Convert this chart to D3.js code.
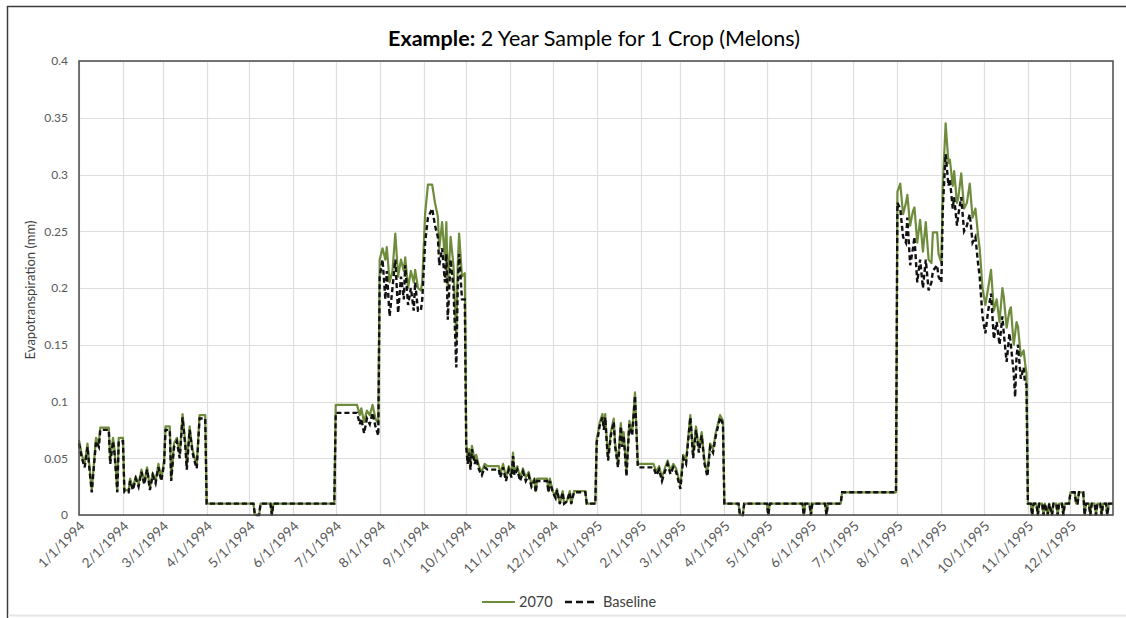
<!DOCTYPE html>
<html>
<head>
<meta charset="utf-8">
<script src="https://cdn.jsdelivr.net/npm/d3@7/dist/d3.min.js"></script>
<style>
  html, body { margin: 0; padding: 0; background: #fff; }
  svg { display: block; font-family: Lato, "Open Sans", sans-serif; }
</style>
</head>
<body>
<svg id="chart" width="1126" height="618"></svg>
<script>
// Daily evapotranspiration (mm) for melons, 1994-1995.
// Each entry is [days since 1 Jan 1994, value].
const et2070 = [
  // Jan - Mar 1994
  [0,.066],[2,.053],[4,.045],[6,.063],[7,.048],[9,.022],[11,.053],[12,.068],[14,.063],[15,.077],
  [21,.077],[22,.048],[24,.068],[25,.058],[27,.022],[28,.068],[31,.068],[32,.022],[35,.022],[36,.032],
  [38,.024],[40,.034],[42,.027],[44,.04],[46,.029],[48,.042],[50,.024],[52,.037],[54,.03],[56,.045],
  [58,.032],[60,.048],[61,.078],[64,.078],[65,.032],[67,.063],[69,.068],[71,.053],[73,.089],[75,.063],
  [76,.043],[78,.078],[80,.058],[82,.048],[83,.044],[85,.088],[89,.088],
  // Apr - Jun 1994
  [90,.01],[123,.01],[124,0],[127,0],[128,.01],[135,.01],[136,0],[137,.01],[180,.01],
  // Jul 1994
  [181,.097],[196,.097],[198,.088],[199,.094],[201,.082],[203,.092],[205,.088],[207,.097],[209,.085],[211,.08],
  // Aug - Sep 1994
  [212,.225],[214,.235],[216,.225],[217,.236],[219,.205],[221,.215],[223,.248],[225,.21],[227,.225],[229,.215],
  [230,.227],[232,.2],[234,.215],[236,.205],[237,.216],[239,.2],[241,.198],[242,.205],[244,.265],[246,.291],
  [249,.291],[251,.275],[253,.263],[254,.235],[256,.258],[258,.225],[259,.258],[260,.2],[262,.245],[264,.22],
  [266,.155],[267,.22],[268,.248],[270,.21],[272,.213],
  // Oct - Dec 1994
  [273,.064],[274,.048],[275,.058],[276,.043],[277,.061],[279,.048],[280,.053],[282,.043],[284,.038],[286,.045],
  [288,.043],[296,.043],[297,.036],[299,.045],[301,.033],[303,.043],[305,.036],[306,.055],[307,.038],[309,.043],
  [311,.033],[313,.041],[315,.033],[317,.038],[319,.027],[321,.032],[322,.021],[323,.032],[330,.032],[331,.021],
  [332,.032],[334,.021],[336,.016],[337,.023],[339,.01],[341,.021],[342,.01],[344,.012],[346,.021],[347,.01],
  [349,.021],[357,.021],[358,.01],[364,.01],
  // Jan - Mar 1995
  [365,.067],[366,.073],[367,.081],[369,.089],[370,.078],[371,.089],[372,.068],[373,.051],[375,.073],[377,.085],
  [378,.063],[380,.045],[382,.081],[383,.063],[384,.073],[386,.037],[388,.083],[390,.073],[392,.108],[394,.045],
  [405,.045],[407,.038],[409,.043],[411,.033],[413,.041],[415,.048],[417,.039],[419,.045],[421,.041],[424,.026],
  [426,.053],[428,.048],[431,.088],[433,.053],[435,.078],[437,.058],[439,.073],[441,.048],[443,.037],[445,.063],
  [447,.058],[449,.073],[452,.088],[454,.083],
  // Apr - Jul 1995
  [455,.01],[465,.01],[466,0],[468,0],[469,.01],[485,.01],[486,0],[487,.01],[510,.01],[511,0],
  [512,.01],[515,.01],[516,0],[517,.01],[526,.01],[527,0],[528,.01],[537,.01],[538,.02],[576,.02],
  // Aug - Oct 1995
  [577,.285],[579,.292],[581,.265],[583,.275],[584,.282],[586,.255],[588,.268],[589,.271],[591,.24],[593,.26],
  [595,.232],[597,.258],[599,.225],[601,.222],[602,.249],[605,.249],[606,.23],[608,.222],[609,.29],[611,.345],
  [613,.31],[614,.313],[616,.29],[617,.303],[619,.275],[620,.28],[622,.301],[624,.27],[626,.275],[628,.292],
  [630,.262],[632,.27],[634,.245],[635,.235],[637,.2],[639,.185],[641,.2],[643,.216],[645,.18],[647,.19],
  [649,.17],[651,.2],[652,.192],[654,.165],[656,.18],[657,.183],[659,.15],[661,.17],[662,.166],[664,.14],
  [666,.145],[667,.134],[668,.125],
  // Nov - Dec 1995
  [669,.01],[671,.01],[672,0],[673,.01],[675,.01],[676,0],[677,.01],[679,.01],[680,0],[681,.01],
  [683,0],[684,.01],[686,0],[687,.01],[689,.01],[690,0],[691,.01],[693,.01],[694,0],[695,.01],
  [698,.01],[699,.02],[702,.02],[703,.01],[704,.01],[705,.02],[708,.02],[709,0],[710,.01],[712,.01],
  [713,0],[714,.01],[716,.01],[717,0],[718,.01],[720,.01],[721,0],[722,.01],[724,.01],[725,0],
  [726,.01],[729,.01]
];

const etBaseline = [
  // Jan - Mar 1994
  [0,.063],[2,.05],[4,.042],[6,.06],[7,.045],[9,.02],[11,.05],[12,.065],[14,.06],[15,.075],
  [21,.075],[22,.045],[24,.065],[25,.055],[27,.02],[28,.065],[31,.065],[32,.02],[35,.02],[36,.03],
  [38,.022],[40,.032],[42,.025],[44,.038],[46,.027],[48,.04],[50,.022],[52,.035],[54,.028],[56,.042],
  [58,.03],[60,.045],[61,.075],[64,.075],[65,.03],[67,.06],[69,.065],[71,.05],[73,.086],[75,.06],
  [76,.04],[78,.075],[80,.055],[82,.045],[83,.041],[85,.085],[89,.085],
  // Apr - Jun 1994
  [90,.01],[123,.01],[124,0],[127,0],[128,.01],[135,.01],[136,0],[137,.01],[180,.01],
  // Jul 1994
  [181,.09],[196,.09],[198,.08],[199,.085],[201,.072],[203,.085],[205,.08],[207,.09],[209,.078],[211,.07],
  // Aug - Sep 1994
  [212,.21],[214,.225],[216,.19],[217,.215],[219,.175],[221,.2],[223,.225],[225,.178],[227,.21],[229,.19],
  [230,.22],[232,.185],[234,.2],[236,.18],[237,.205],[239,.18],[241,.18],[242,.19],[244,.24],[246,.262],
  [249,.27],[251,.255],[253,.245],[254,.22],[256,.235],[258,.205],[259,.23],[260,.172],[262,.225],[264,.2],
  [266,.13],[267,.2],[268,.23],[270,.19],[272,.19],
  // Oct - Dec 1994
  [273,.06],[274,.045],[275,.055],[276,.04],[277,.058],[279,.045],[280,.05],[282,.04],[284,.035],[286,.042],
  [288,.04],[296,.04],[297,.033],[299,.042],[301,.03],[303,.04],[305,.033],[306,.052],[307,.035],[309,.04],
  [311,.03],[313,.038],[315,.03],[317,.035],[319,.025],[321,.03],[322,.02],[323,.03],[330,.03],[331,.02],
  [332,.03],[334,.02],[336,.015],[337,.022],[339,.01],[341,.02],[342,.01],[344,.012],[346,.02],[347,.01],
  [349,.02],[357,.02],[358,.01],[364,.01],
  // Jan - Mar 1995
  [365,.064],[366,.07],[367,.078],[369,.086],[370,.075],[371,.086],[372,.065],[373,.048],[375,.07],[377,.082],
  [378,.06],[380,.042],[382,.078],[383,.06],[384,.07],[386,.034],[388,.08],[390,.07],[392,.105],[394,.042],
  [405,.042],[407,.035],[409,.04],[411,.03],[413,.038],[415,.045],[417,.036],[419,.042],[421,.038],[424,.023],
  [426,.05],[428,.045],[431,.086],[433,.05],[435,.075],[437,.055],[439,.07],[441,.045],[443,.034],[445,.06],
  [447,.055],[449,.07],[452,.086],[454,.08],
  // Apr - Jul 1995
  [455,.01],[465,.01],[466,0],[468,0],[469,.01],[485,.01],[486,0],[487,.01],[510,.01],[511,0],
  [512,.01],[515,.01],[516,0],[517,.01],[526,.01],[527,0],[528,.01],[537,.01],[538,.02],[576,.02],
  // Aug - Oct 1995
  [577,.275],[579,.27],[581,.245],[583,.24],[584,.262],[586,.22],[588,.235],[589,.245],[591,.205],[593,.225],
  [595,.2],[597,.225],[599,.198],[601,.205],[602,.215],[605,.22],[606,.21],[608,.205],[609,.27],[611,.318],
  [613,.29],[614,.296],[616,.27],[617,.28],[619,.255],[620,.265],[622,.28],[624,.25],[626,.255],[628,.265],
  [630,.24],[632,.245],[634,.22],[635,.21],[637,.175],[639,.16],[641,.18],[643,.195],[645,.155],[647,.17],
  [649,.15],[651,.175],[652,.16],[654,.135],[656,.16],[657,.15],[659,.125],[660,.104],[661,.14],[662,.15],
  [664,.12],[666,.13],[667,.116],[668,.115],
  // Nov - Dec 1995
  [669,.01],[671,.01],[672,0],[673,.01],[675,.01],[676,0],[677,.01],[679,.01],[680,0],[681,.01],
  [683,0],[684,.01],[686,0],[687,.01],[689,.01],[690,0],[691,.01],[693,.01],[694,0],[695,.01],
  [698,.01],[699,.02],[702,.02],[703,.01],[704,.01],[705,.02],[708,.02],[709,0],[710,.01],[712,.01],
  [713,0],[714,.01],[716,.01],[717,0],[718,.01],[720,.01],[721,0],[722,.01],[724,.01],[725,0],
  [726,.01],[729,.01]
];

const yTicks = [0, 0.05, 0.1, 0.15, 0.2, 0.25, 0.3, 0.35, 0.4];
const seriesNames = ["2070", "Baseline"];

const startDate = new Date(1994, 0, 1);
const endDate = new Date(1995, 11, 31);
const monthTicks = d3.timeMonth.range(startDate, new Date(1996, 0, 1));
const toDate = d => d3.timeDay.offset(startDate, d);

const svg = d3.select("#chart");
const plot = { left: 79, right: 1113, top: 61, bottom: 515 };

const x = d3.scaleTime().domain([startDate, endDate]).range([plot.left, plot.right]);
const y = d3.scaleLinear().domain([0, 0.4]).range([plot.bottom, plot.top]);

// outer frame
svg.append("line").attr("x1", 7.5).attr("x2", 7.5).attr("y1", 6).attr("y2", 618)
  .attr("stroke", "#3c3c3c").attr("stroke-width", 1.5);
svg.append("line").attr("x1", 7).attr("x2", 1126).attr("y1", 6.5).attr("y2", 6.5)
  .attr("stroke", "#3c3c3c").attr("stroke-width", 1.5);
svg.append("line").attr("x1", 8).attr("x2", 1126).attr("y1", 615.5).attr("y2", 615.5)
  .attr("stroke", "#e6e6e6").attr("stroke-width", 2);

// title
svg.append("text")
  .attr("x", 594).attr("y", 46)
  .attr("text-anchor", "middle")
  .attr("font-size", 21.5).attr("fill", "#000")
  .call(t => {
    t.append("tspan").attr("font-weight", "bold").text("Example:");
    t.append("tspan").text(" 2 Year Sample for 1 Crop (Melons)");
  });

// gridlines
svg.append("g").selectAll("line").data(yTicks).join("line")
  .attr("x1", plot.left).attr("x2", plot.right)
  .attr("y1", d => Math.round(y(d)) + 0.5).attr("y2", d => Math.round(y(d)) + 0.5)
  .attr("stroke", "#dedede").attr("stroke-width", 1.2);
svg.append("g").selectAll("line").data(monthTicks).join("line")
  .attr("x1", d => Math.round(x(d)) + 0.5).attr("x2", d => Math.round(x(d)) + 0.5)
  .attr("y1", plot.top).attr("y2", plot.bottom)
  .attr("stroke", "#dedede").attr("stroke-width", 1.2);

// y axis labels
const yAxis = svg.append("g")
  .attr("transform", `translate(${plot.left},0)`)
  .call(d3.axisLeft(y).tickValues(yTicks).tickSize(0).tickPadding(11)
    .tickFormat(d => String(+d.toFixed(2))));
yAxis.select(".domain").remove();
yAxis.selectAll("text").attr("font-size", 12).attr("fill", "#595959")
  .attr("font-family", "Lato, sans-serif");

// x axis labels (rotated)
const xAxis = svg.append("g")
  .attr("transform", `translate(0,${plot.bottom})`)
  .call(d3.axisBottom(x).tickValues(monthTicks).tickSize(0).tickFormat(d3.timeFormat("%-m/%-d/%Y")));
xAxis.select(".domain").remove();
xAxis.selectAll("text")
  .attr("font-size", 13.5).attr("fill", "#595959").attr("font-family", "Lato, sans-serif")
  .attr("text-anchor", "end")
  .attr("dy", null).attr("y", 0)
  .attr("transform", "translate(6,12) rotate(-45)");

// axis title
svg.append("text")
  .attr("transform", "translate(35,290) rotate(-90)")
  .attr("text-anchor", "middle")
  .attr("font-size", 13).attr("fill", "#404040")
  .text("Evapotranspiration (mm)");

// series
const line = d3.line()
  .x(d => x(toDate(d[0])))
  .y(d => y(d[1]));

svg.append("path").datum(et2070)
  .attr("d", line).attr("fill", "none")
  .attr("stroke", "#6f8c3c").attr("stroke-width", 2.2).attr("stroke-linejoin", "round");
svg.append("path").datum(etBaseline)
  .attr("d", line).attr("fill", "none")
  .attr("stroke", "#111").attr("stroke-width", 2.4).attr("stroke-dasharray", "5,3");

// plot frame
svg.append("rect")
  .attr("x", plot.left).attr("y", plot.top)
  .attr("width", plot.right - plot.left).attr("height", plot.bottom - plot.top)
  .attr("fill", "none").attr("stroke", "#4a4a4a").attr("stroke-width", 1.5);

// legend
const legend = svg.append("g").attr("transform", "translate(0,602)");
legend.append("line").attr("x1", 482).attr("x2", 515).attr("y1", 0).attr("y2", 0)
  .attr("stroke", "#6f8c3c").attr("stroke-width", 2.2);
legend.append("text").attr("x", 519).attr("y", 5).attr("font-size", 14.5).attr("fill", "#404040")
  .text(seriesNames[0]);
legend.append("line").attr("x1", 565).attr("x2", 598).attr("y1", 0).attr("y2", 0)
  .attr("stroke", "#111").attr("stroke-width", 2.4).attr("stroke-dasharray", "7,4");
legend.append("text").attr("x", 603).attr("y", 5).attr("font-size", 14.5).attr("fill", "#404040")
  .text(seriesNames[1]);
</script>
</body>
</html>
